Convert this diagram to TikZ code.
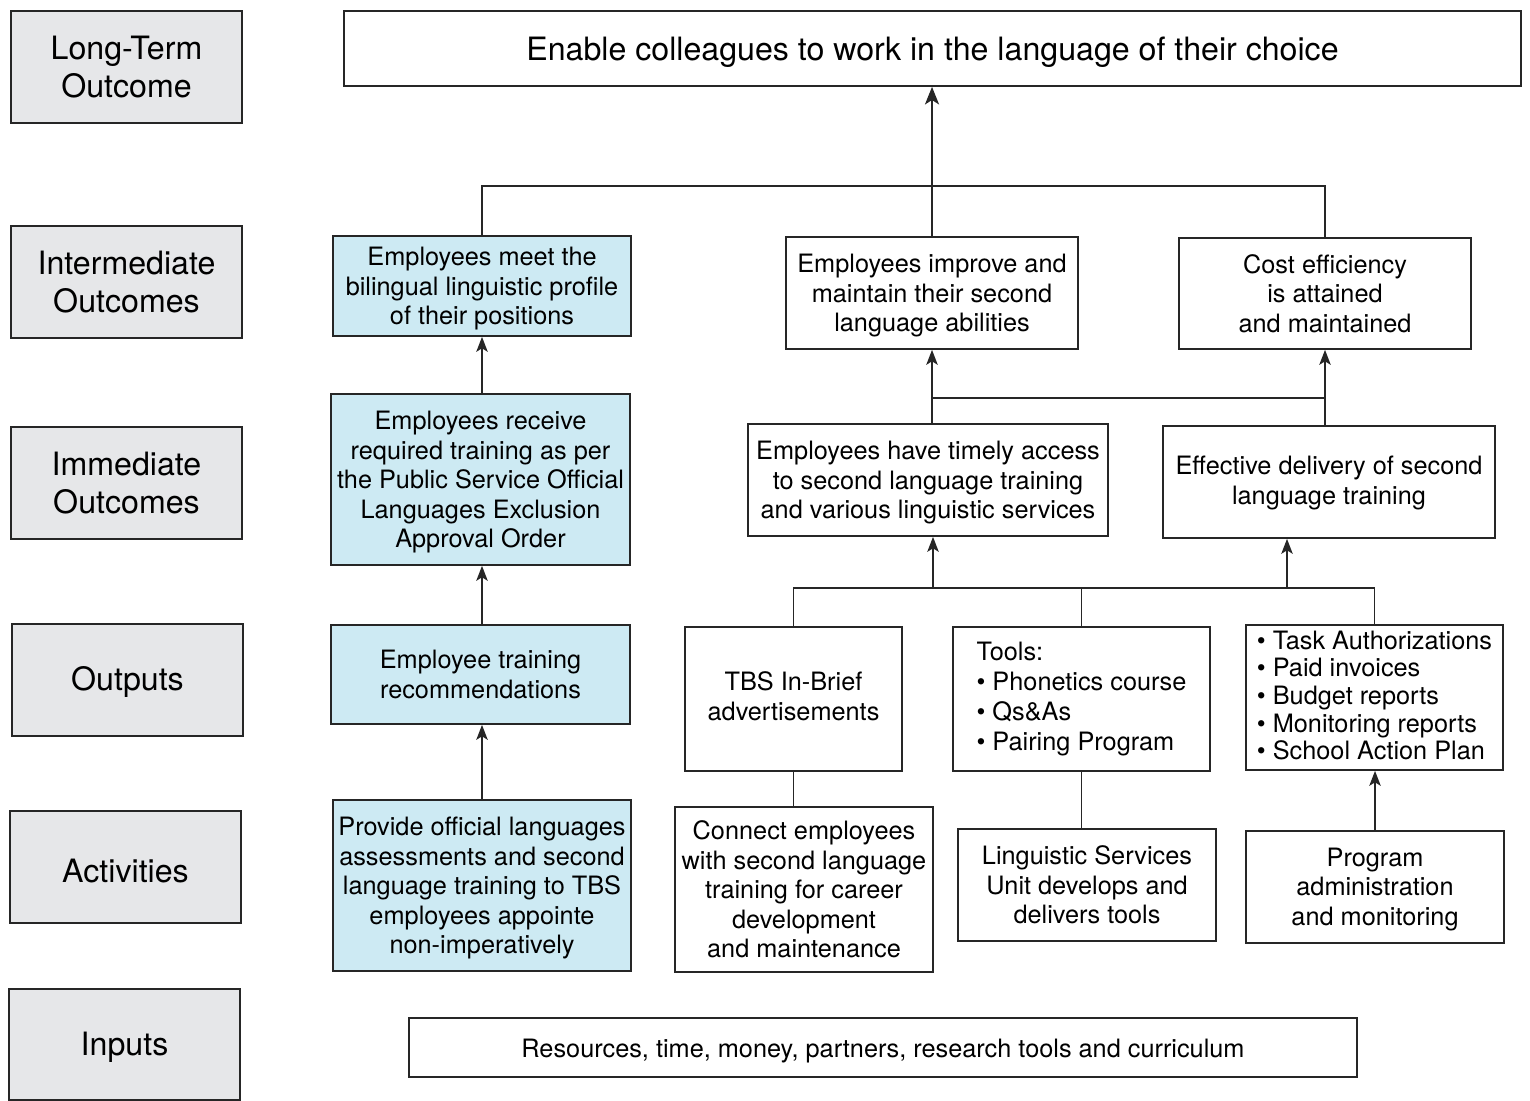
\documentclass[tikz,border=0pt]{standalone}
\usepackage{fontspec}
\setmainfont{TeX Gyre Heros}
\usetikzlibrary{arrows.meta}
\usepackage{xcolor}
\definecolor{lblgray}{RGB}{230,231,233}
\definecolor{paleblue}{RGB}{205,234,243}

\begin{document}
\begin{tikzpicture}[x=0.02cm,y=-0.02cm,
    box/.style={draw=black!85, line width=1pt, inner sep=2pt, align=center,
      font=\fontsize{14.4}{16.8}\selectfont},
    lbl/.style={box, fill=lblgray, minimum width=4.62cm, minimum height=2.24cm,
      font=\fontsize{18.3}{21.6}\selectfont},
    bluebox/.style={box, fill=paleblue},
    drop/.style={execute at begin node={\rule{0pt}{#1}}},
    link/.style={line width=1pt, draw=black!85},
    arr/.style={link, -{Stealth[length=8.5pt,width=6.5pt,inset=2pt]}}]
      \useasboundingbox (0,0) rectangle (1530,1101);

      % Labels
      \node[lbl, text depth=-2.1pt] (lLT)  at (126.5,67)  {Long-Term\\Outcome};
      \node[lbl, text depth=-4.3pt] (lIO)  at (126.5,282) {Intermediate\\Outcomes};
      \node[lbl, text depth=-2pt]   (lImO) at (126.5,483) {Immediate\\Outcomes};
      \node[lbl, drop=16.5pt] (lOut) at (127.5,680) {Outputs};
      \node[lbl, drop=17.7pt] (lAct) at (125.5,867) {Activities};
      \node[lbl, drop=16.5pt, minimum height=2.22cm] (lInp) at (124.5,1044.5) {Inputs};

      % Long-term
      \node[box, drop=17.7pt, minimum width=23.54cm, minimum height=1.5cm,
        font=\fontsize{18.3}{21.6}\selectfont] (Top) at (932.5,48.5)
        {Enable colleagues to work in the language of their choice};

      % Intermediate
      \node[bluebox, text depth=-3.4pt, minimum width=5.96cm, minimum height=2cm] (IO1) at (482,286)
        {Employees meet the\\bilingual linguistic profile\\of their positions};
      \node[box, text depth=-3.4pt, minimum width=5.84cm, minimum height=2.24cm] (IO2) at (932,293)
        {Employees improve and\\maintain their second\\language abilities};
      \node[box, text depth=-5pt, minimum width=5.84cm, minimum height=2.22cm] (IO3) at (1325,293.5)
        {Cost efficiency\\is attained\\and maintained};

      % Immediate
      \node[bluebox, text depth=-1.8pt, minimum width=5.98cm, minimum height=3.42cm] (Im1) at (480.5,479.5)
        {Employees receive\\required training as per\\the Public Service Official\\Languages Exclusion\\Approval Order};
      \node[box, text depth=-1.8pt, minimum width=7.2cm, minimum height=2.24cm] (Im2) at (928,480)
        {Employees have timely access\\to second language training\\and various linguistic services};
      \node[box, text depth=1.8pt, minimum width=6.64cm, minimum height=2.24cm] (Im3) at (1329,482)
        {Effective delivery of second\\language training};

      % Outputs
      \node[bluebox, text depth=-2.1pt, minimum width=5.98cm, minimum height=1.98cm] (O1) at (480.5,674.5)
        {Employee training\\recommendations};
      \node[box, text depth=3.6pt, minimum width=4.34cm, minimum height=2.88cm] (O2) at (793.5,699)
        {TBS In-Brief\\advertisements};
      \node[box, align=left, minimum width=5.14cm, minimum height=2.88cm,
        font=\fontsize{14.4}{17.1}\selectfont] (O3) at (1081.5,699)
        {Tools:\\\textbullet\ Phonetics course\\\textbullet\ Qs\&As\\\textbullet\ Pairing Program};
      \node[box, align=left, text depth=2.5pt, minimum width=5.14cm, minimum height=2.9cm,
        font=\fontsize{14.4}{15.7}\selectfont] (O4) at (1374.5,697.5)
        {\textbullet\ Task Authorizations\\\textbullet\ Paid invoices\\\textbullet\ Budget reports\\\textbullet\ Monitoring reports\\\textbullet\ School Action Plan};

      % Activities
      \node[bluebox, text depth=-4.5pt, minimum width=5.96cm, minimum height=3.42cm] (A1) at (482,885.5)
        {Provide official languages\\assessments and second\\language training to TBS\\employees appointe\\non-imperatively};
      \node[box, minimum width=5.16cm, minimum height=3.3cm] (A2) at (804,889.5)
        {Connect employees\\with second language\\training for career\\development\\and maintenance};
      \node[box, text depth=-2.1pt, minimum width=5.16cm, minimum height=2.24cm] (A3) at (1087,885)
        {Linguistic Services\\Unit develops and\\delivers tools};
      \node[box, text depth=0.6pt, minimum width=5.16cm, minimum height=2.24cm] (A4) at (1375,887)
        {Program\\administration\\and monitoring};

      % Inputs
      \node[box, drop=14.8pt, minimum width=18.96cm, minimum height=1.18cm] (Inp) at (883,1047.5)
        {Resources, time, money, partners, research tools and curriculum};

      % Junctions
      \coordinate (jTop) at (933,186);
      \coordinate (jMid) at (933,398);
      \coordinate (jOut) at (933,588);
      \coordinate (jOut2) at (1287,588);

      % Upper links
      \draw[link] (IO1.north) |- (jTop) -| (IO3.north);
      \draw[link, -{Stealth[length=10pt,width=8pt,inset=2.5pt]}] (IO2.north) -- (IO2.north |- Top.south);
      \draw[link] (IO2.south |- jMid) -- (IO3.south |- jMid);
      \draw[arr] (IO2.south |- Im2.north) -- (IO2.south);
      \draw[arr] (IO3.south |- Im3.north) -- (IO3.south);

      % Left column
      \draw[arr] (IO1.south |- Im1.north) -- (IO1.south);
      \draw[arr] (IO1.south |- O1.north) -- (IO1.south |- Im1.south);
      \draw[arr] (IO1.south |- A1.north) -- (IO1.south |- O1.south);

      % Outputs to immediate
      \draw[link] (O2.north) |- (O4.north |- jOut) -- (O4.north);
      \draw[link] (O3.north) -- (O3.north |- jOut);
      \draw[arr] (jOut) -- (jOut |- Im2.south);
      \draw[arr] (jOut2) -- (jOut2 |- Im3.south);

      % Activities to outputs
      \draw[link] (O2.south) -- (O2.south |- A2.north);
      \draw[link] (O3.south) -- (O3.south |- A3.north);
      \draw[arr] (A4.north) -- (A4.north |- O4.south);
    \end{tikzpicture}
\end{document}
